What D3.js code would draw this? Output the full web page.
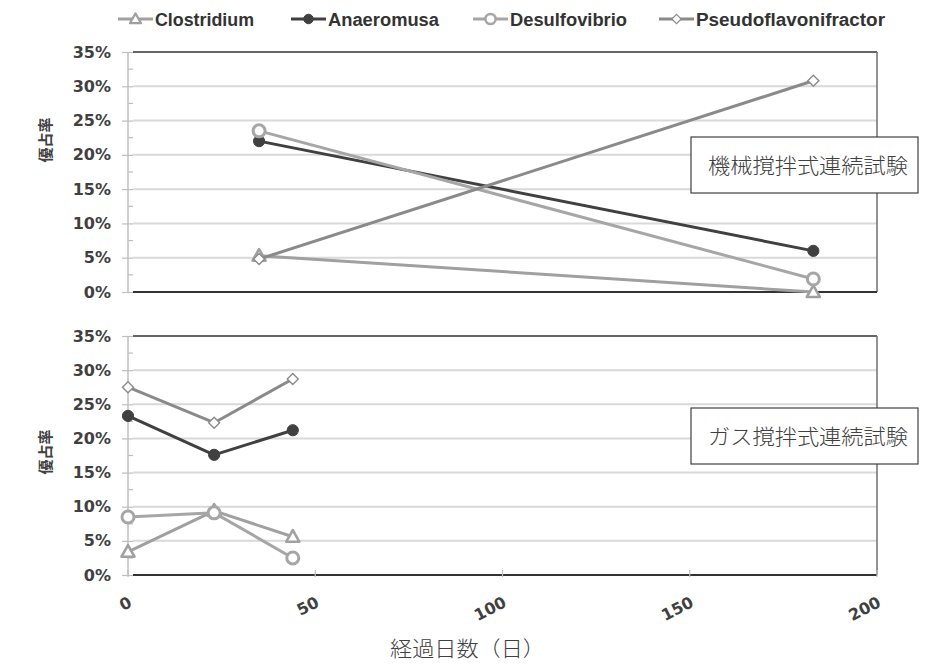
<!DOCTYPE html>
<html>
<head>
<meta charset="utf-8">
<script src="https://cdn.jsdelivr.net/npm/d3@7"></script>
<style>
  html, body { margin: 0; padding: 0; background: #fff; }
  svg { display: block; }
</style>
</head>
<body>
<svg id="chart" width="935" height="664"></svg>
<script>
// ---- data ----
const seriesNames = ["Clostridium", "Anaeromusa", "Desulfovibrio", "Pseudoflavonifractor"];
const topDays = [35, 183];          // 機械撹拌式連続試験 sampling days
const botDays = [0, 23, 44];        // ガス撹拌式連続試験 sampling days
const topClostridium = [0.053, 0.0];
const topAnaeromusa = [0.220, 0.060];
const topDesulfovibrio = [0.235, 0.019];
const topPseudo = [0.048, 0.308];
const botClostridium = [0.034, 0.094, 0.056];
const botAnaeromusa = [0.233, 0.176, 0.212];
const botDesulfovibrio = [0.085, 0.091, 0.025];
const botPseudo = [0.275, 0.223, 0.287];
const yTicks = [0, 0.05, 0.10, 0.15, 0.20, 0.25, 0.30, 0.35];
const xTicks = [0, 50, 100, 150, 200];
const panelLabels = ["機械撹拌式連続試験", "ガス撹拌式連続試験"];
const yTitle = "優占率";
const xTitle = "経過日数（日）";

// ---- styles per series ----
const styles = {
  Clostridium:          { color: "#a0a0a0", marker: "triangle" },
  Anaeromusa:           { color: "#404040", marker: "dot" },
  Desulfovibrio:        { color: "#a6a6a6", marker: "ring" },
  Pseudoflavonifractor: { color: "#8a8a8a", marker: "diamond" }
};

const svg = d3.select("#chart");
const x = d3.scaleLinear().domain([0, 200]).range([128, 877]);
const panels = [
  { y: d3.scaleLinear().domain([0, 0.35]).range([292, 52]), days: topDays,
    series: [topClostridium, topAnaeromusa, topDesulfovibrio, topPseudo],
    label: panelLabels[0], labelY: 165, titleY: 140, xLabels: false },
  { y: d3.scaleLinear().domain([0, 0.35]).range([575, 336]), days: botDays,
    series: [botClostridium, botAnaeromusa, botDesulfovibrio, botPseudo],
    label: panelLabels[1], labelY: 436, titleY: 452, xLabels: true }
];

function drawMarker(g, type, color, cx, cy, scale) {
  const s = scale || 1;
  if (type === "triangle") {
    const h = 11 * s, w = 13 * s;
    g.append("path")
      .attr("d", `M${cx},${cy - h * 0.6} L${cx + w / 2},${cy + h * 0.45} L${cx - w / 2},${cy + h * 0.45} Z`)
      .attr("fill", "#fff").attr("stroke", color).attr("stroke-width", 2.6 * s)
      .attr("stroke-linejoin", "round");
  } else if (type === "dot") {
    g.append("circle").attr("cx", cx).attr("cy", cy).attr("r", 5.6 * s)
      .attr("fill", color).attr("stroke", color).attr("stroke-width", 1);
  } else if (type === "ring") {
    g.append("circle").attr("cx", cx).attr("cy", cy).attr("r", 6 * s)
      .attr("fill", "#fff").attr("stroke", color).attr("stroke-width", 3 * s);
  } else if (type === "diamond") {
    const r = 5.5 * s;
    g.append("path")
      .attr("d", `M${cx},${cy - r} L${cx + r},${cy} L${cx},${cy + r} L${cx - r},${cy} Z`)
      .attr("fill", "#fff").attr("stroke", color).attr("stroke-width", 1.4 * s);
  }
}

panels.forEach(p => {
  const g = svg.append("g");
  const y = p.y;
  // gridlines
  g.selectAll("line.grid").data(yTicks.slice(1, -1)).join("line")
    .attr("x1", 133).attr("x2", 877)
    .attr("y1", d => y(d)).attr("y2", d => y(d))
    .attr("stroke", "#d9d9d9").attr("stroke-width", 2);
  // plot frame: top, right, bottom
  g.append("line").attr("x1", 133).attr("x2", 877).attr("y1", y(0.35)).attr("y2", y(0.35))
    .attr("stroke", "#333").attr("stroke-width", 1.6);
  g.append("line").attr("x1", 877).attr("x2", 877).attr("y1", y(0.35)).attr("y2", y(0))
    .attr("stroke", "#777").attr("stroke-width", 1.6);
  g.append("line").attr("x1", 133).attr("x2", 877).attr("y1", y(0)).attr("y2", y(0))
    .attr("stroke", "#333").attr("stroke-width", 2);
  // y axis
  const ax = g.append("g").attr("transform", "translate(128,0)")
    .call(d3.axisLeft(y).tickValues(yTicks).tickSize(6).tickPadding(11)
      .tickFormat(d => Math.round(d * 100) + "%"));
  ax.select(".domain").attr("stroke", "#bfbfbf").attr("stroke-width", 1.5).attr("d", `M0,${y(0.35)}V${y(0)}`);
  ax.selectAll(".tick line").attr("stroke", "#bfbfbf").attr("stroke-width", 1.2).attr("x1", 5);
  ax.selectAll(".tick text").attr("fill", "#404040")
    .style("font-family", "'DejaVu Sans', Verdana, sans-serif")
    .style("font-weight", "bold").style("font-size", "16px");
  // minor ticks
  g.selectAll("line.minor").data(d3.range(0.025, 0.35, 0.05)).join("line")
    .attr("x1", 128).attr("x2", 133)
    .attr("y1", d => y(d)).attr("y2", d => y(d))
    .attr("stroke", "#bfbfbf").attr("stroke-width", 1.2);

  // x ticks for bottom panel
  if (p.xLabels) {
    g.selectAll("line.xt").data(xTicks).join("line")
      .attr("x1", d => x(d)).attr("x2", d => x(d))
      .attr("y1", y(0) - 5).attr("y2", y(0) + 2)
      .attr("stroke", "#bfbfbf").attr("stroke-width", 1.2);
    g.selectAll("text.xt").data(xTicks).join("text")
      .attr("transform", d => `translate(${x(d) + 5},${y(0) + 31}) rotate(-27)`)
      .attr("text-anchor", "end")
      .attr("fill", "#404040")
      .style("font-family", "'DejaVu Sans', Verdana, sans-serif")
      .style("font-weight", "bold").style("font-size", "16px")
      .text(d => d);
  }

  // series lines and markers
  const line = d3.line().x((d, i) => x(p.days[i])).y(d => y(d));
  seriesNames.forEach((name, si) => {
    const st = styles[name];
    const vals = p.series[si];
    g.append("path").datum(vals).attr("d", line)
      .attr("fill", "none").attr("stroke", st.color).attr("stroke-width", 3)
      .attr("stroke-linejoin", "round");
    const mg = g.append("g");
    vals.forEach((v, i) => drawMarker(mg, st.marker, st.color, x(p.days[i]), y(v)));
  });

  // panel label box
  const lg = g.append("g");
  lg.append("rect").attr("x", 691).attr("y", p.labelY - 28).attr("width", 227).attr("height", 56)
    .attr("fill", "#fff").attr("stroke", "#404040").attr("stroke-width", 1.2);
  lg.append("text").attr("x", 708).attr("y", p.labelY + 8)
    .attr("fill", "#404040")
    .style("font-family", "'Noto Sans CJK JP', sans-serif")
    .style("font-size", "21px").style("font-weight", 300)
    .attr("textLength", 200).attr("lengthAdjust", "spacingAndGlyphs")
    .text(p.label);

  // y title
  svg.append("text")
    .attr("transform", `translate(51,${p.titleY}) rotate(-90)`)
    .attr("text-anchor", "middle").attr("fill", "#404040")
    .style("font-family", "'Noto Sans CJK JP', sans-serif")
    .style("font-weight", "bold").style("font-size", "15px")
    .text(yTitle);
});

// x title
svg.append("text").attr("x", 390).attr("y", 656)
  .attr("fill", "#404040")
  .style("font-family", "'Noto Sans CJK JP', sans-serif")
  .style("font-size", "21px").style("font-weight", 300)
  .attr("textLength", 155).attr("lengthAdjust", "spacingAndGlyphs")
  .text(xTitle);

// legend
const legendX = [118, 291, 473, 659];
const legendW = [99, 111, 117, 189];
const legend = svg.append("g");
seriesNames.forEach((name, i) => {
  const st = styles[name];
  const lx = legendX[i];
  legend.append("line").attr("x1", lx).attr("x2", lx + 35).attr("y1", 19).attr("y2", 19)
    .attr("stroke", st.color).attr("stroke-width", 3);
  drawMarker(legend, st.marker, st.color, lx + 17.5, 19, 0.85);
  legend.append("text").attr("x", lx + 37).attr("y", 25.5)
    .attr("fill", "#333")
    .style("font-family", "'Liberation Sans', Arial, sans-serif")
    .style("font-weight", "bold").style("font-size", "18px")
    .attr("textLength", legendW[i]).attr("lengthAdjust", "spacingAndGlyphs")
    .text(name);
});
</script>
</body>
</html>
